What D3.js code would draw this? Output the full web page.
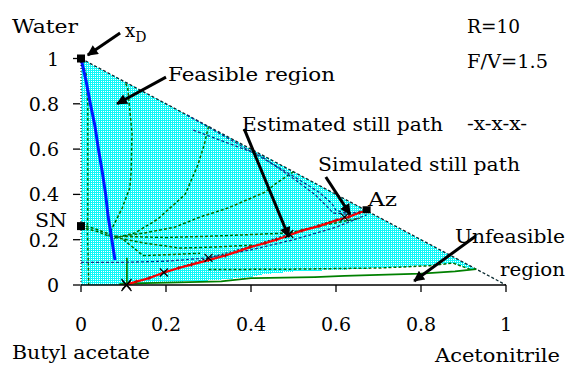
<!DOCTYPE html>
<html><head><meta charset="utf-8">
<script src="https://cdn.jsdelivr.net/npm/d3@7"></script>
<style>
body{margin:0;background:#fff}
svg{display:block}
text{font-family:"DejaVu Serif","Liberation Serif",serif;fill:#000}
</style>
</head><body>
<svg id="chart" width="568" height="367"></svg>
<script>
// ---- data (x = acetonitrile fraction, y = water fraction) ----
const xTicks = [0, 0.2, 0.4, 0.6, 0.8, 1];
const xTickLabels = ["0", "0.2", "0.4", "0.6", "0.8", "1"];
const yTicks = [0, 0.2, 0.4, 0.6, 0.8, 1];
const yTickLabels = ["0", "0.2", "0.4", "0.6", "0.8", "1"];

const triangle = [[0,0],[0,1],[1,0]];
const feasibleRegion = [[0,0],[0,1],[0.93,0.07],[0.92,0.066],[0.875,0.097],[0.82,0.085],[0.7,0.075],[0.6,0.066],[0.5,0.06],[0.42,0.045],[0.4,0.035],[0.3,0.02],[0.2,0.012],[0.12,0.004],[0.09,0.0]];
const distillateLine = [[0,1],[0.012,0.9],[0.022,0.8],[0.033,0.7],[0.041,0.6],[0.05,0.5],[0.058,0.4],[0.064,0.3],[0.071,0.22],[0.075,0.17],[0.08,0.11]];

const greenCurves = [
  [[0,1],[0.012,0.93],[0.016,0.8],[0.016,0.5],[0.016,0.3],[0.015,0.26],[0.017,0.1],[0.018,0.0]],
  [[0.105,0.89],[0.11,0.87],[0.12,0.67],[0.118,0.5],[0.115,0.43],[0.097,0.34],[0.073,0.25],[0.064,0.21]],
  [[0.3,0.7],[0.29,0.62],[0.275,0.53],[0.245,0.4],[0.18,0.29],[0.127,0.23],[0.085,0.21]],
  [[0.5,0.5],[0.46,0.45],[0.433,0.41],[0.346,0.34],[0.28,0.3],[0.22,0.255],[0.15,0.23],[0.1,0.215]],
  [[0,0.265],[0.03,0.25],[0.08,0.215]],
  [[0,0.255],[0.04,0.235],[0.08,0.205]],
  [[0.08,0.215],[0.2,0.21],[0.3,0.215],[0.43,0.225],[0.49,0.23],[0.56,0.26],[0.656,0.295]],
  [[0.08,0.21],[0.15,0.185],[0.233,0.163],[0.32,0.168],[0.405,0.176]],
  [[0.1,0.2],[0.146,0.13],[0.22,0.135],[0.28,0.14]],
  [[0.3,0.068],[0.5,0.07],[0.7,0.075],[0.82,0.085],[0.875,0.097],[0.92,0.066]]
];
const greenSolid = [
  [[0.108,0.12],[0.108,0.0]],
  [[0.09,0.004],[0.15,0.008],[0.23,0.012],[0.33,0.016],[0.4,0.03],[0.55,0.035],[0.62,0.04],[0.7,0.045],[0.8,0.05],[0.88,0.06],[0.93,0.07]]
];
const blueDashed = [
  [[0,0.1],[0.1,0.1],[0.2,0.105],[0.3,0.12],[0.4,0.155],[0.5,0.2],[0.6,0.255],[0.672,0.31]],
  [[0.25,0.75],[0.4,0.59],[0.5,0.48],[0.56,0.41],[0.59,0.36],[0.6,0.33],[0.63,0.315],[0.672,0.328]],
  [[0.264,0.684],[0.42,0.574],[0.5,0.47],[0.55,0.4],[0.58,0.345],[0.593,0.318],[0.64,0.31],[0.672,0.328]]
];
const estimatedPath = [[0.107,0],[0.195,0.055],[0.3,0.12],[0.4,0.17],[0.49,0.225],[0.62,0.3],[0.672,0.328]];
const estimatedMarks = [[0.107,0],[0.195,0.055],[0.3,0.12],[0.49,0.225],[0.62,0.3]];
const simulatedPath = [[0.105,0],[0.13,0.015],[0.16,0.03],[0.198,0.057],[0.23,0.075],[0.26,0.09],[0.3,0.11],[0.34,0.13],[0.398,0.167],[0.433,0.185],[0.46,0.2],[0.49,0.22],[0.52,0.24],[0.56,0.26],[0.6,0.285],[0.63,0.3],[0.656,0.32],[0.672,0.328]];
const points = {xD:[0,1], SN:[0,0.26], Az:[0.672,0.33]};

// ---- layout ----
const svg = d3.select("#chart");
const x = d3.scaleLinear().domain([0,1]).range([81,506]);
const y = d3.scaleLinear().domain([0,1]).range([285,58.5]);
const line = d3.line().x(d=>x(d[0])).y(d=>y(d[1]));

const defs = svg.append("defs");
const pat = defs.append("pattern").attr("id","dots").attr("patternUnits","userSpaceOnUse").attr("width",4).attr("height",4);
pat.append("rect").attr("width",4).attr("height",4).attr("fill","#10f8f8");
[[1,1],[3,3],[1,3],[3,1]].forEach(p=>pat.append("rect").attr("x",p[0]).attr("y",p[1]).attr("width",1).attr("height",1).attr("fill","#ffffff"));
defs.append("marker").attr("id","ah").attr("viewBox","0 0 10 10").attr("refX",9).attr("refY",5)
  .attr("markerWidth",4.5).attr("markerHeight",3.6).attr("orient","auto").attr("markerUnits","strokeWidth")
  .append("path").attr("d","M0,0L10,5L0,10z").attr("fill","#000");

// feasible region fill
svg.append("path").attr("d", line(feasibleRegion)+"Z").attr("fill","url(#dots)").attr("shape-rendering","crispEdges");

// hypotenuse
svg.append("path").attr("d", line([triangle[1],triangle[2]])).attr("stroke","#0a2a30").attr("stroke-width",1.3)
  .attr("stroke-dasharray","3,2").attr("fill","none");

// green curves
svg.selectAll(".g").data(greenCurves).join("path").attr("d",line).attr("fill","none")
  .attr("stroke","#006e00").attr("stroke-width",1.5).attr("stroke-dasharray","3,2");
svg.selectAll(".gs").data(greenSolid).join("path").attr("d",line).attr("fill","none")
  .attr("stroke","#008000").attr("stroke-width",1.7);
// blue dashed
svg.selectAll(".b").data(blueDashed).join("path").attr("d",line).attr("fill","none")
  .attr("stroke","#0a3c8c").attr("stroke-width",1.3).attr("stroke-dasharray","3,2");

// distillate line (blue)
svg.append("path").attr("d",line(distillateLine)).attr("fill","none").attr("stroke","#0018ff").attr("stroke-width",3);

// estimated path
svg.append("path").attr("d",line(estimatedPath)).attr("fill","none").attr("stroke","#102040").attr("stroke-width",1.2).attr("stroke-dasharray","2,2");
// simulated path (red)
svg.append("path").attr("d",line(simulatedPath)).attr("fill","none").attr("stroke","#ff0000").attr("stroke-width",2.2);
svg.selectAll(".sm").data(simulatedPath).join("path")
  .attr("d",d=>`M${x(d[0])-2},${y(d[1])}h4M${x(d[0])},${y(d[1])-2}v4`).attr("stroke","#c00000").attr("stroke-width",1);
svg.selectAll(".em").data(estimatedMarks).join("path")
  .attr("d",d=>`M${x(d[0])-4},${y(d[1])-4}l8,8M${x(d[0])+4},${y(d[1])-4}l-8,8`).attr("stroke","#000").attr("stroke-width",1.2);

// axes
svg.append("line").attr("x1",x(0)).attr("x2",x(0)).attr("y1",y(0)).attr("y2",y(1)).attr("stroke","#000").attr("stroke-dasharray","1,2");
svg.append("line").attr("x1",x(0)).attr("x2",x(1)).attr("y1",y(0)).attr("y2",y(0)).attr("stroke","#000").attr("stroke-width",1.5);
svg.selectAll(".xt").data(xTicks).join("line").attr("x1",d=>x(d)).attr("x2",d=>x(d)).attr("y1",y(0)).attr("y2",y(0)+7).attr("stroke","#000").attr("stroke-width",1.3);
svg.selectAll(".yt").data(yTicks).join("line").attr("x1",x(0)-8).attr("x2",x(0)-1).attr("y1",d=>y(d)).attr("y2",d=>y(d)).attr("stroke","#000").attr("stroke-width",1.3);
svg.selectAll(".xl").data(xTicks).join("text").attr("x",d=>x(d)).attr("y",331).attr("text-anchor","middle")
  .attr("font-size",19).text((d,i)=>xTickLabels[i]);
svg.selectAll(".yl").data(yTicks).join("text").attr("x",59).attr("y",d=>y(d)+7).attr("text-anchor","end")
  .attr("font-size",19).text((d,i)=>yTickLabels[i]);

// markers
svg.append("rect").attr("x",x(points.xD[0])-4).attr("y",y(points.xD[1])-4).attr("width",8).attr("height",8).attr("fill","#000");
svg.append("rect").attr("x",x(points.SN[0])-4).attr("y",y(points.SN[1])-4).attr("width",8).attr("height",8).attr("fill","#000");
svg.append("rect").attr("x",x(points.Az[0])-4).attr("y",y(points.Az[1])-4).attr("width",8).attr("height",7).attr("fill","#000");
svg.append("path").attr("d",`M${x(0.107)-5},${y(0)-6}l10,12M${x(0.107)+5},${y(0)-6}l-10,12`).attr("stroke","#000").attr("stroke-width",1.2);

// arrows
const arrows = [
  [[0.092,1.113],[0.016,1.015]],
  [[0.2,0.918],[0.085,0.8]],
  [[0.384,0.689],[0.489,0.212]],
  [[0.576,0.477],[0.633,0.313]],
  [[0.929,0.216],[0.784,0.018]]
];
svg.selectAll(".ar").data(arrows).join("path").attr("d",line).attr("stroke","#000").attr("stroke-width",3)
  .attr("fill","none").attr("marker-end","url(#ah)");

// labels
const labels = [
  ["Water",12,33,66],
  ["R=10",467,33,53],
  ["F/V=1.5",467,68,81],
  ["Feasible region",168,81,167],
  ["Estimated still path",242,131,201],
  ["-x-x-x-",467,130,60],
  ["Simulated still path",318,171,202],
  ["Az",368,206,29],
  ["SN",35,227,32],
  ["Unfeasible",455,243,110],
  ["region",500,276,65],
  ["Butyl acetate",12,359,138],
  ["Acetonitrile",435,362,125]
];
svg.selectAll(".lb").data(labels).join("text").attr("x",d=>d[1]).attr("y",d=>d[2])
  .attr("textLength",d=>d[3]).attr("lengthAdjust","spacingAndGlyphs").attr("font-size",18).text(d=>d[0]);
const xd = svg.append("text").attr("x",125).attr("y",37).attr("font-size",18);
xd.append("tspan").text("x");
xd.append("tspan").attr("dy",5).attr("font-size",14).text("D");
</script>
</body></html>
